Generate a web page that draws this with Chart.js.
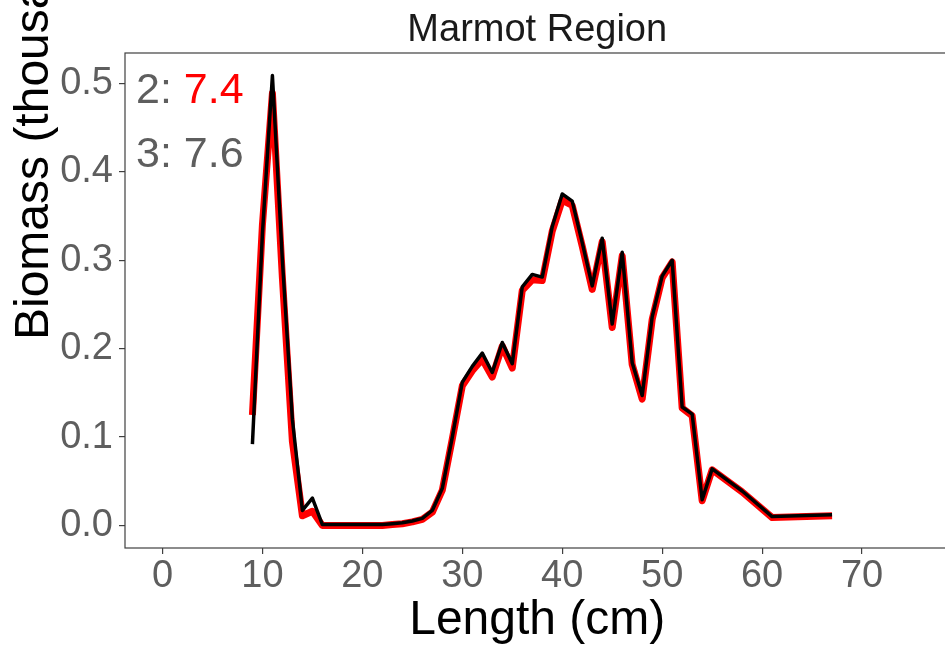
<!DOCTYPE html>
<html>
<head>
<meta charset="utf-8">
<script src="https://cdn.jsdelivr.net/npm/chart.js@4.4.1/dist/chart.umd.min.js"></script>
<style>
  html, body { margin: 0; padding: 0; background: #ffffff; overflow: hidden; }
  #wrap { width: 945px; height: 647px; overflow: hidden; position: relative; }
  #inner { width: 960px; height: 647px; position: absolute; left: 0; top: 0; }
</style>
</head>
<body>
<div id="wrap"><div id="inner"><canvas id="c"></canvas></div></div>
<script>
// ---- data ----
const lengths = [9,10,11,12,13,14,15,16,17,18,19,20,21,22,23,24,25,26,27,28,29,30,31,32,33,34,35,36,37,38,39,40,41,42,43,44,45,46,47,48,49,50,51,52,53,54,55,58,61,67];
const seriesBlack = [0.092,0.330,0.509,0.300,0.120,0.017,0.031,0.001,0.001,0.001,0.001,0.001,0.001,0.001,0.002,0.003,0.005,0.008,0.017,0.042,0.100,0.162,0.180,0.195,0.173,0.207,0.183,0.270,0.284,0.281,0.338,0.375,0.367,0.320,0.271,0.325,0.228,0.309,0.184,0.147,0.236,0.282,0.300,0.134,0.126,0.029,0.064,0.039,0.010,0.012];
const seriesRed   = [0.125,0.340,0.489,0.280,0.095,0.011,0.016,0.000,0.000,0.000,0.000,0.000,0.000,0.000,0.001,0.002,0.004,0.007,0.015,0.040,0.098,0.158,0.175,0.188,0.168,0.203,0.178,0.266,0.278,0.277,0.333,0.368,0.362,0.316,0.267,0.321,0.224,0.305,0.182,0.143,0.233,0.280,0.298,0.133,0.124,0.028,0.063,0.038,0.009,0.011];
const xTicks = [0,10,20,30,40,50,60,70];
const yTicks = [0.0,0.1,0.2,0.3,0.4,0.5];
const titleText = 'Marmot Region';
const xTitle = 'Length (cm)';
const yTitle = 'Biomass (thousands)';
const annoLabels = ['2: ', '3: '];
const annoValues = ['7.4', '7.6'];
const annoColors = ['#ff0000', '#5e5e5e'];

const FONT = '"Liberation Sans", Arial, Helvetica, sans-serif';
const GREY = '#5e5e5e';

const toXY = (xs, ys) => xs.map((x, i) => ({x: x, y: ys[i]}));

const decorPlugin = {
  id: 'decor',
  afterDraw(chart) {
    const ctx = chart.ctx;
    const a = chart.chartArea;
    ctx.save();
    // panel border
    ctx.strokeStyle = '#404040';
    ctx.lineWidth = 1.2;
    ctx.strokeRect(a.left, a.top, a.right - a.left, a.bottom - a.top);
    // annotations
    ctx.font = '43px ' + FONT;
    ctx.textBaseline = 'alphabetic';
    ctx.textAlign = 'left';
    const baseY = [103, 167];
    for (let i = 0; i < annoLabels.length; i++) {
      const x0 = a.left + 11;
      ctx.fillStyle = GREY;
      ctx.fillText(annoLabels[i], x0, baseY[i]);
      const w = ctx.measureText(annoLabels[i]).width;
      ctx.fillStyle = annoColors[i];
      ctx.fillText(annoValues[i], x0 + w, baseY[i]);
    }
    // y axis title (positioned as in the reference, running off the top)
    ctx.font = '48px ' + FONT;
    ctx.fillStyle = '#000000';
    ctx.translate(48, 340);
    ctx.rotate(-Math.PI / 2);
    ctx.textAlign = 'left';
    ctx.fillText(yTitle, 0, 0);
    ctx.restore();
  }
};

new Chart(document.getElementById('c'), {
  type: 'line',
  data: {
    datasets: [
      { label: 'black', data: toXY(lengths, seriesBlack), borderColor: '#000000', borderWidth: 3.5,
        pointRadius: 0, tension: 0, fill: false, order: 0, borderJoinStyle: 'round', borderCapStyle: 'butt' },
      { label: 'red', data: toXY(lengths, seriesRed), borderColor: '#ff0000', borderWidth: 7,
        pointRadius: 0, tension: 0, fill: false, order: 1, borderJoinStyle: 'round', borderCapStyle: 'butt' }
    ]
  },
  options: {
    responsive: true,
    maintainAspectRatio: false,
    animation: false,
    devicePixelRatio: 1,
    layout: { padding: { left: 0, top: 0, right: 10.5, bottom: 0 } },
    plugins: {
      legend: { display: false },
      tooltip: { enabled: false },
      title: {
        display: true, text: titleText, fullSize: false,
        color: '#1a1a1a',
        font: { family: FONT, size: 38, weight: 'normal', lineHeight: 1.1 },
        padding: { top: 10, bottom: 1.2 }
      }
    },
    scales: {
      x: {
        type: 'linear', min: -3.75, max: 78.75,
        afterBuildTicks: s => { s.ticks = xTicks.map(v => ({value: v})); },
        afterFit: s => { s.height = 99; },
        grid: { display: true, drawOnChartArea: false, drawTicks: true, tickLength: 6, color: '#404040', lineWidth: 1.2 },
        border: { display: false },
        ticks: { color: GREY, padding: 0, font: { family: FONT, size: 38 }, maxRotation: 0, autoSkip: false },
        title: { display: true, text: xTitle, color: '#000000', font: { family: FONT, size: 48, lineHeight: 1 }, padding: { top: 0, bottom: 2 } }
      },
      y: {
        type: 'linear', min: -0.0255, max: 0.5345,
        afterBuildTicks: s => { s.ticks = yTicks.map(v => ({value: v})); },
        afterFit: s => { s.width = 125; },
        grid: { display: true, drawOnChartArea: false, drawTicks: true, tickLength: 6, color: '#404040', lineWidth: 1.2 },
        border: { display: false },
        ticks: { color: GREY, padding: 6, font: { family: FONT, size: 38 }, autoSkip: false,
                 callback: v => Number(v).toFixed(1) },
        title: { display: false }
      }
    }
  },
  plugins: [decorPlugin]
});
</script>
</body>
</html>
